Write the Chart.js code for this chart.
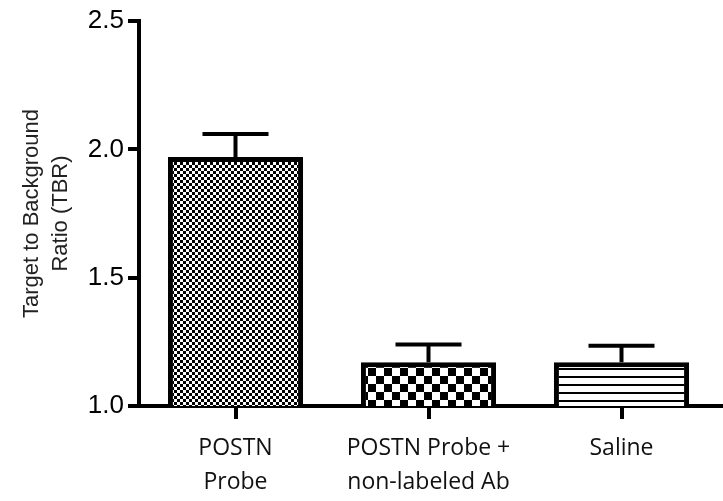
<!DOCTYPE html>
<html>
<head>
<meta charset="utf-8">
<script src="https://cdn.jsdelivr.net/npm/chart.js@4.4.1/dist/chart.umd.min.js"></script>
<style>
    html, body { margin: 0; padding: 0; background: #fff; }
    #wrap { width: 723px; height: 501px; }
</style>
</head>
<body>
<div id="wrap"><canvas id="tbrChart" width="723" height="501"></canvas></div>
<script>
const groups = [["POSTN", "Probe"], ["POSTN Probe +", "non-labeled Ab"], ["Saline"]];
const tbrMean = [1.97, 1.17, 1.17];
const tbrError = [0.09, 0.07, 0.065];
const yTicks = [1.0, 1.5, 2.0, 2.5];

// fill patterns for the three bars
function checkerPattern(cell) {
    const c = document.createElement("canvas");
    c.width = cell * 2;
    c.height = cell * 2;
    const g = c.getContext("2d");
    g.fillStyle = "#fff";
    g.fillRect(0, 0, c.width, c.height);
    g.fillStyle = "#000";
    g.fillRect(0, 0, cell, cell);
    g.fillRect(cell, cell, cell, cell);
    return g.createPattern(c, "repeat");
}

function stripePattern(gap, thick) {
    const c = document.createElement("canvas");
    c.width = 8;
    c.height = gap;
    const g = c.getContext("2d");
    g.fillStyle = "#fff";
    g.fillRect(0, 0, c.width, c.height);
    g.fillStyle = "#000";
    g.fillRect(0, 0, c.width, thick);
    return g.createPattern(c, "repeat");
}

const fills = [checkerPattern(3), checkerPattern(8), stripePattern(8, 2)];

const errorBars = {
    id: "errorBars",
    afterDatasetsDraw(chart) {
        const ctx = chart.ctx;
        const y = chart.scales.y;
        const meta = chart.getDatasetMeta(0);
        ctx.save();
        ctx.strokeStyle = "#000";
        ctx.lineWidth = 4;
        meta.data.forEach((bar, i) => {
            const top = y.getPixelForValue(tbrMean[i] + tbrError[i]);
            const base = y.getPixelForValue(tbrMean[i]);
            ctx.beginPath();
            ctx.moveTo(bar.x, base);
            ctx.lineTo(bar.x, top);
            ctx.moveTo(bar.x - 33, top);
            ctx.lineTo(bar.x + 33, top);
            ctx.stroke();
        });
        ctx.restore();
    },
    afterDraw(chart) {
        // x axis runs on to the edge of the picture
        const ctx = chart.ctx;
        const a = chart.chartArea;
        ctx.save();
        ctx.strokeStyle = "#000";
        ctx.lineWidth = 4;
        ctx.beginPath();
        ctx.moveTo(a.right - 2, a.bottom);
        ctx.lineTo(chart.width, a.bottom);
        ctx.stroke();
        ctx.restore();
    }
};

const ctx = document.getElementById("tbrChart").getContext("2d");
new Chart(ctx, {
    type: "bar",
    data: {
        labels: groups,
        datasets: [{
            data: tbrMean,
            backgroundColor: fills,
            borderColor: "#000",
            borderWidth: 5,
            borderSkipped: false,
            barPercentage: 0.7,
            categoryPercentage: 1
        }]
    },
    options: {
        responsive: false,
        animation: false,
        layout: { padding: { top: 21, right: 5, left: 0, bottom: 0 } },
        plugins: {
            legend: { display: false },
            tooltip: { enabled: false }
        },
        scales: {
            x: {
                grid: {
                    offset: false,
                    drawOnChartArea: false,
                    tickLength: 13,
                    lineWidth: 4,
                    color: "#000"
                },
                border: { display: true, width: 4, color: "#000" },
                ticks: {
                    color: "#111",
                    padding: 12,
                    maxRotation: 0,
                    font: { family: "'Open Sans'", size: 23, lineHeight: 1.5 }
                },
                afterFit: scale => { scale.height = 95; }
            },
            y: {
                min: 1,
                max: 2.5,
                afterBuildTicks: scale => { scale.ticks = yTicks.map(v => ({ value: v })); },
                grid: {
                    drawOnChartArea: false,
                    tickLength: 11,
                    lineWidth: 4,
                    color: "#000"
                },
                border: { display: true, width: 4, color: "#000" },
                ticks: {
                    color: "#000",
                    padding: 4,
                    font: { family: "'Liberation Sans'", size: 26 },
                    callback: v => v.toFixed(1)
                },
                title: {
                    display: true,
                    text: ["Target to Background", "Ratio (TBR)"],
                    color: "#222",
                    padding: { top: 18, bottom: 0 },
                    font: { family: "'Liberation Sans'", size: 22, lineHeight: 1.3 }
                },
                afterFit: scale => { scale.width = 139; }
            }
        }
    },
    plugins: [errorBars]
});
</script>
</body>
</html>
